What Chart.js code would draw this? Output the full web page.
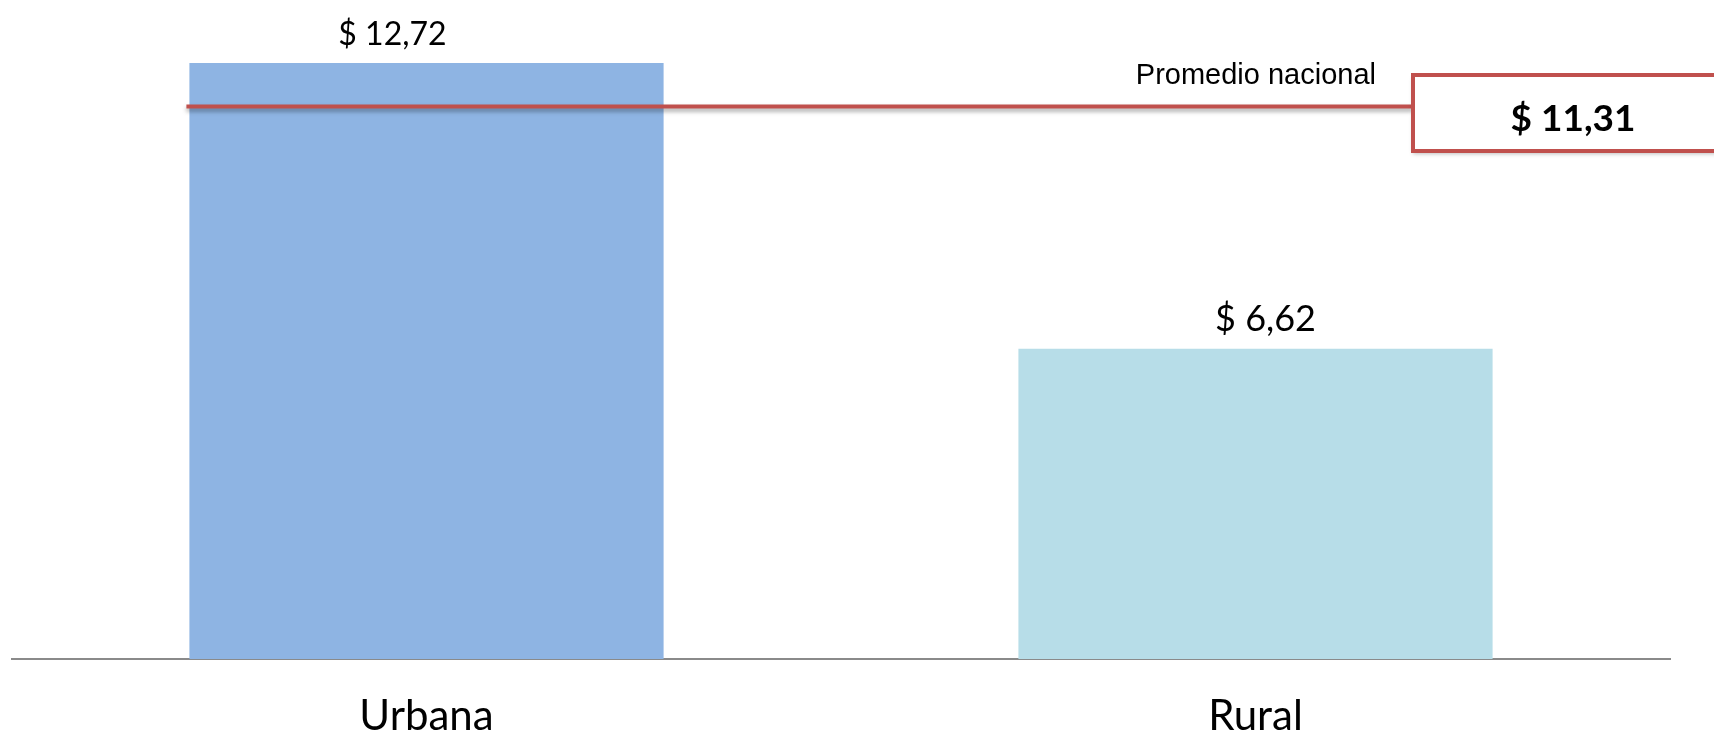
<!DOCTYPE html>
<html>
<head>
<meta charset="utf-8">
<script src="https://cdn.jsdelivr.net/npm/chart.js@4.4.1/dist/chart.umd.min.js"></script>
<style>
    html, body { margin: 0; padding: 0; background: #fff; }
    #wrap { width: 1714px; height: 731px; }
</style>
</head>
<body>
<div id="wrap"><canvas id="chart" width="1714" height="731"></canvas></div>
<script>
// --- Data ---
const CATEGORIES = ['Urbana', 'Rural'];
const VALUES = [12.72, 6.62];
const VALUE_LABELS = ['$ 12,72', '$ 6,62'];
const AVG_TITLE = 'Promedio nacional';
const AVG_LABEL = '$ 11,31';
const AVG_LINE_LEVEL = 11.8;   // where the red line sits on the bar scale in the picture
const Y_MAX = 14;

// --- Styles ---
const BAR_COLORS = ['#8EB4E3', '#B7DDE8'];
const RED = '#C0504D';
const VALUE_FONT_SIZES = [32, 36];
const VALUE_SHIFT_X = [-34, 10];   // labels are not centred on the bars in the original

// draws the value labels, the national average line and its box
const annotations = {
    id: 'annotations',
    afterDatasetsDraw(chart) {
        const ctx = chart.ctx;
        const bars = chart.getDatasetMeta(0).data;
        const y = chart.scales.y;
        const area = chart.chartArea;

        // value labels above bars
        ctx.save();
        ctx.fillStyle = '#000';
        ctx.textAlign = 'center';
        ctx.textBaseline = 'alphabetic';
        bars.forEach((bar, i) => {
            ctx.font = VALUE_FONT_SIZES[i] + 'px Lato';
            ctx.fillText(VALUE_LABELS[i], bar.x + VALUE_SHIFT_X[i], bar.y - 18);
        });
        ctx.restore();

        // national average line
        const lineY = Math.round(y.getPixelForValue(AVG_LINE_LEVEL)) + 0.5;
        const startX = bars[0].x - bars[0].width / 2 - 3;
        const boxLeft = area.right - 257;

        ctx.save();
        ctx.shadowColor = 'rgba(0,0,0,0.35)';
        ctx.shadowBlur = 4;
        ctx.shadowOffsetY = 3;
        ctx.strokeStyle = RED;
        ctx.lineWidth = 4;
        ctx.beginPath();
        ctx.moveTo(startX, lineY);
        ctx.lineTo(boxLeft, lineY);
        ctx.stroke();

        // box
        ctx.fillStyle = '#fff';
        ctx.shadowColor = 'rgba(0,0,0,0.25)';
        ctx.fillRect(boxLeft, lineY - 31.5, 400, 76);
        ctx.shadowColor = 'transparent';
        ctx.strokeRect(boxLeft, lineY - 31.5, 400, 76);
        ctx.restore();

        ctx.save();
        ctx.fillStyle = '#000';
        ctx.textBaseline = 'alphabetic';
        ctx.textAlign = 'right';
        ctx.font = '29px "Liberation Sans"';
        ctx.fillText(AVG_TITLE, boxLeft - 37, lineY - 22.5);
        ctx.textAlign = 'center';
        ctx.font = 'bold 37px Lato';
        ctx.fillText(AVG_LABEL, boxLeft + 160, lineY + 24);
        ctx.restore();
    }
};

new Chart(document.getElementById('chart').getContext('2d'), {
    type: 'bar',
    data: {
        labels: CATEGORIES,
        datasets: [{
            data: VALUES,
            backgroundColor: BAR_COLORS,
            borderWidth: 0,
            barPercentage: 0.572,
            categoryPercentage: 1
        }]
    },
    options: {
        responsive: false,
        animation: false,
        devicePixelRatio: 1,
        layout: { padding: { top: 3, left: 12, right: 44, bottom: 0 } },
        plugins: {
            legend: { display: false },
            tooltip: { enabled: false }
        },
        scales: {
            x: {
                grid: { display: false },
                border: { display: true, color: '#8a8a8a', width: 2 },
                ticks: {
                    color: '#000',
                    padding: 28,
                    font: { family: 'Lato', size: 42, lineHeight: 1 }
                },
                afterFit: (scale) => { scale.height = 72; }
            },
            y: {
                display: false,
                min: 0,
                max: Y_MAX
            }
        }
    },
    plugins: [annotations]
});
</script>
</body>
</html>
